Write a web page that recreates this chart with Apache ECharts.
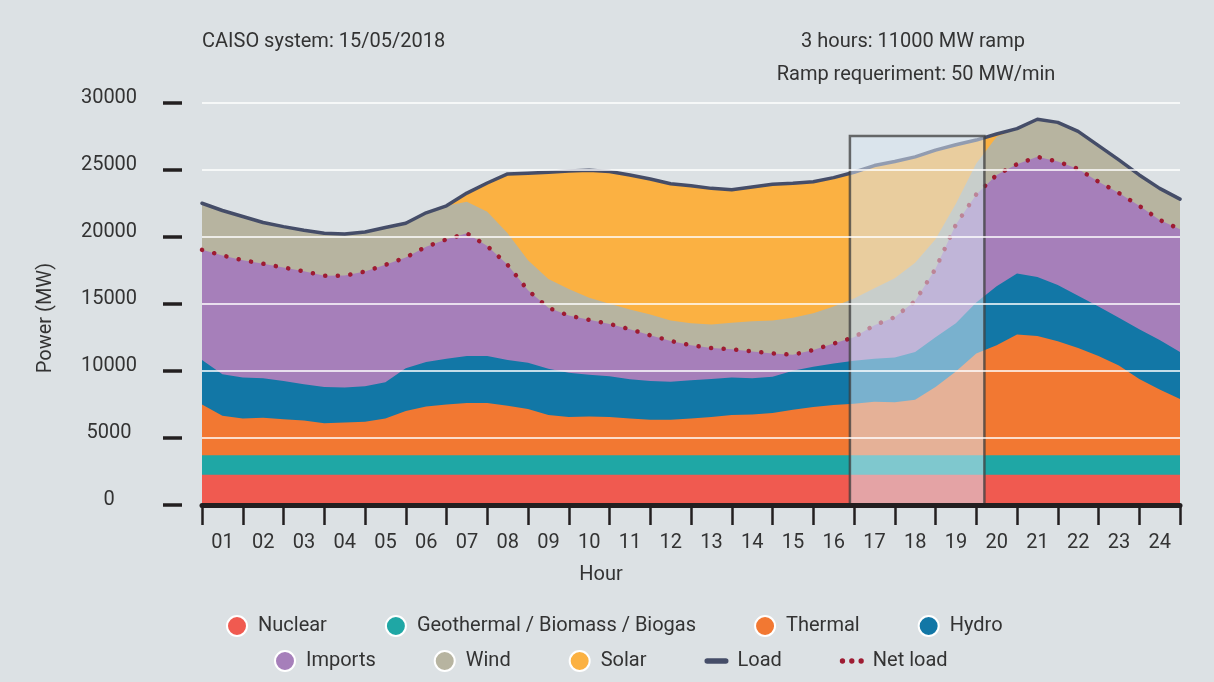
<!DOCTYPE html>
<html>
<head>
<meta charset="utf-8" />
<title>CAISO system: 15/05/2018</title>
<script src="https://cdn.jsdelivr.net/npm/echarts@6/dist/echarts.min.js"></script>
<style>
  html, body { margin: 0; padding: 0; background: #dce1e4; }
  #main { width: 1214px; height: 682px; }
</style>
</head>
<body>
<div id="main"></div>
<script>
// half-hour readings, hour 0 .. 24
var hours = [0, 0.5, 1, 1.5, 2, 2.5, 3, 3.5, 4, 4.5, 5, 5.5, 6, 6.5, 7, 7.5, 8, 8.5, 9, 9.5,
  10, 10.5, 11, 11.5, 12, 12.5, 13, 13.5, 14, 14.5, 15, 15.5, 16, 16.5, 17, 17.5, 18, 18.5, 19, 19.5,
  20, 20.5, 21, 21.5, 22, 22.5, 23, 23.5, 24];
var hourLabels = ['01', '02', '03', '04', '05', '06', '07', '08', '09', '10', '11', '12',
  '13', '14', '15', '16', '17', '18', '19', '20', '21', '22', '23', '24'];

var nuclear = [2250, 2250, 2250, 2250, 2250, 2250, 2250, 2250, 2250, 2250, 2250, 2250, 2250, 2250, 2250, 2250, 2250,
  2250, 2250, 2250, 2250, 2250, 2250, 2250, 2250, 2250, 2250, 2250, 2250, 2250, 2250, 2250, 2250, 2250,
  2250, 2250, 2250, 2250, 2250, 2250, 2250, 2250, 2250, 2250, 2250, 2250, 2250, 2250, 2250];
var geothermal = [1450, 1450, 1450, 1450, 1450, 1450, 1450, 1450, 1450, 1450, 1450, 1450, 1450, 1450, 1450, 1450, 1450,
  1450, 1450, 1450, 1450, 1450, 1450, 1450, 1450, 1450, 1450, 1450, 1450, 1450, 1450, 1450, 1450, 1450,
  1450, 1450, 1450, 1450, 1450, 1450, 1450, 1450, 1450, 1450, 1450, 1450, 1450, 1450, 1450];
var thermal = [3800, 2950, 2750, 2800, 2700, 2600, 2400, 2450, 2500, 2750, 3300, 3650, 3800, 3900, 3900, 3700, 3450,
  3000, 2850, 2900, 2850, 2750, 2650, 2650, 2750, 2850, 3000, 3050, 3150, 3400, 3600, 3750, 3850, 4000,
  3950, 4150, 5100, 6250, 7600, 8200, 9000, 8900, 8500, 8000, 7400, 6700, 5700, 4900, 4200];
var hydro = [3300, 3100, 3050, 2950, 2850, 2700, 2700, 2600, 2650, 2700, 3200, 3300, 3400, 3500, 3500, 3400, 3450,
  3450, 3300, 3100, 3050, 2930, 2900, 2830, 2850, 2850, 2800, 2700, 2700, 2900, 3000, 3100, 3200, 3200,
  3350, 3550, 3700, 3600, 3800, 4400, 4550, 4400, 4200, 3900, 3700, 3550, 3700, 3700, 3500];
var imports = [8220, 8850, 8750, 8530, 8450, 8420, 8280, 8350, 8550, 8750, 8250, 8600, 8900, 9150, 8200, 7100, 5400,
  4550, 4270, 4100, 3900, 3720, 3400, 3050, 2600, 2300, 2100, 2000, 1750, 1200, 1250, 1480, 1750, 2500,
  3000, 3800, 5100, 7350, 8050, 8300, 8150, 8950, 9200, 9450, 9300, 9300, 9200, 8950, 9150];
var wind = [3470, 3350, 3250, 3080, 3050, 3060, 3170, 3100, 2950, 2780, 2550, 2530, 2500, 2350, 2550, 2350, 2250,
  2150, 1980, 1650, 1500, 1480, 1550, 1520, 1650, 1750, 1980, 2250, 2460, 2750, 2750, 2770, 2900, 2750,
  2900, 2850, 2200, 1550, 2300, 2850, 2650, 2800, 2920, 2800, 2690, 2470, 2300, 2350, 2250];
var solar = [0, 0, 0, 0, 0, 0, 0, 0, 0, 0, 0, 0, 0, 650, 2150, 4430, 6480,
  7950, 8800, 9500, 9850, 10020, 10100, 10200, 10250, 10150, 9920, 10000, 10140, 10030, 9800, 9600, 9400, 9150,
  8700, 7900, 6650, 4400, 1750, 200, 0, 0, 0, 0, 0, 0, 0, 0, 0];
var load = [22490, 21950, 21500, 21060, 20750, 20480, 20250, 20200, 20350, 20680, 21000, 21780, 22300, 23250, 24000, 24680, 24730,
  24800, 24900, 24950, 24850, 24600, 24300, 23950, 23800, 23600, 23500, 23700, 23900, 23980, 24100, 24400, 24800, 25300,
  25600, 25950, 26450, 26850, 27200, 27650, 28050, 28750, 28520, 27850, 26790, 25720, 24600, 23600, 22800];
var netLoad = [19020, 18600, 18250, 17980, 17700, 17420, 17080, 17100, 17400, 17900, 18450, 19250, 19800, 20250, 19300, 17900, 16000,
  14700, 14120, 13800, 13500, 13100, 12650, 12230, 11900, 11700, 11600, 11450, 11300, 11200, 11550, 12030, 12500, 13400,
  14000, 15200, 17600, 20900, 23150, 24600, 25400, 25950, 25600, 25050, 24100, 23250, 22300, 21250, 20550];

// ramp window (hours) and its top (MW)
var rampStart = 15.9;
var rampEnd = 19.2;
var rampTop = 27500;

var FONT = 'Roboto';
var TXT = '#333333';

// sources bottom -> top
var sources = [
  { name: 'Nuclear', color: '#f05a50', values: nuclear },
  { name: 'Geothermal / Biomass / Biogas', color: '#1fa7a5', values: geothermal },
  { name: 'Thermal', color: '#f27832', values: thermal },
  { name: 'Hydro', color: '#1277a6', values: hydro },
  { name: 'Imports', color: '#a67fba', values: imports },
  { name: 'Wind', color: '#b7b4a0', values: wind },
  { name: 'Solar', color: '#fbb142', values: solar }
];

// running totals: each layer is painted from 0 to its top, top layer first
var running = hours.map(function () { return 0; });
var areaList = sources.map(function (s) {
  running = running.map(function (v, i) { return v + s.values[i]; });
  return {
    name: s.name,
    type: 'line',
    showSymbol: false,
    symbol: 'none',
    lineStyle: { width: 0 },
    itemStyle: { color: s.color },
    areaStyle: { color: s.color, opacity: 1 },
    data: hours.map(function (h, i) { return [h, running[i]]; }),
    z: 2
  };
}).reverse();

function pairs(arr) {
  return hours.map(function (h, i) { return [h, arr[i]]; });
}

var myChart = echarts.init(document.getElementById('main'));

var circleItem = function (name) { return { name: name, icon: 'circle' }; };

var legendBase = {
  itemGap: 58,
  itemWidth: 24,
  itemHeight: 20,
  itemStyle: { borderColor: '#ffffff', borderWidth: 2 },
  textStyle: { fontSize: 20, color: TXT, fontFamily: FONT, padding: [0, 0, 0, 4] }
};

option = {
  backgroundColor: '#dce1e4',
  animation: false,
  textStyle: { fontFamily: FONT },
  grid: [
    { left: 202, right: 34, top: 102.5, height: 402.5 },
    // narrow strip that carries the dash marks left of the plot
    { left: 163, width: 19, top: 102.5, height: 402.5 }
  ],
  legend: [
    Object.assign({}, legendBase, {
      top: 610,
      left: 221,
      data: [circleItem('Nuclear'), circleItem('Geothermal / Biomass / Biogas'), circleItem('Thermal'), circleItem('Hydro')]
    }),
    Object.assign({}, legendBase, {
      top: 645,
      left: 269,
      data: [circleItem('Imports'), circleItem('Wind'), circleItem('Solar'),
        { name: 'Load', icon: 'path://M3,0L23,0A3,3 0 0 1 23,6L3,6A3,3 0 0 1 3,0Z', itemStyle: { color: '#454d68', borderWidth: 0 } },
        { name: 'Net load', icon: 'path://M0,2a2,2 0 1,0 4,0a2,2 0 1,0 -4,0M7,2a2,2 0 1,0 4,0a2,2 0 1,0 -4,0M14,2a2,2 0 1,0 4,0a2,2 0 1,0 -4,0', itemStyle: { color: '#9e1b32', borderWidth: 0 } }]
    })
  ],
  xAxis: [{
    type: 'value',
    gridIndex: 0,
    min: 0,
    max: 24,
    show: false
  }, {
    type: 'category',
    gridIndex: 0,
    position: 'bottom',
    data: hourLabels,
    boundaryGap: true,
    z: 7,
    axisLine: { show: true, lineStyle: { color: '#231f20', width: 5 } },
    axisTick: { show: true, length: 20, lineStyle: { color: '#231f20', width: 2.5 } },
    axisLabel: { interval: 0, margin: 28, fontSize: 20, color: TXT, fontFamily: FONT },
    splitLine: { show: false }
  }, {
    type: 'value',
    gridIndex: 1,
    min: 0,
    max: 1,
    show: false
  }],
  yAxis: [{
    type: 'value',
    gridIndex: 0,
    min: 0,
    max: 30000,
    interval: 5000,
    z: 6,
    axisLine: { show: false },
    axisTick: { show: false },
    axisLabel: {
      fontSize: 20, color: TXT, fontFamily: FONT, align: 'center', margin: 93,
      verticalAlign: 'bottom', lineHeight: 10,
      formatter: function (v) { return String(v); }
    },
    splitLine: { show: true, lineStyle: { color: '#ffffff', width: 1.5 } }
  }, {
    type: 'value',
    gridIndex: 1,
    min: 0,
    max: 30000,
    interval: 5000,
    axisLine: { show: false },
    axisTick: { show: false },
    axisLabel: { show: false },
    splitLine: { show: true, lineStyle: { color: '#231f20', width: 3.5 } }
  }],
  graphic: [
    { type: 'text', x: 202, y: 42, style: { text: 'CAISO system: 15/05/2018', font: '20px Roboto', fill: TXT, textAlign: 'left', textVerticalAlign: 'middle' } },
    { type: 'text', x: 913, y: 42, style: { text: '3 hours: 11000 MW ramp', font: '20px Roboto', fill: TXT, textAlign: 'center', textVerticalAlign: 'middle' } },
    { type: 'text', x: 916, y: 75, style: { text: 'Ramp requeriment: 50 MW/min', font: '20px Roboto', fill: TXT, textAlign: 'center', textVerticalAlign: 'middle' } },
    { type: 'text', x: 601, y: 575, style: { text: 'Hour', font: '20px Roboto', fill: TXT, textAlign: 'center', textVerticalAlign: 'middle' } },
    { type: 'text', x: 46, y: 318, rotation: Math.PI / 2, style: { text: 'Power (MW)', font: '20px Roboto', fill: TXT, textAlign: 'center', textVerticalAlign: 'middle' } }
  ],
  series: areaList.concat([
    {
      name: 'Load',
      type: 'line',
      showSymbol: false,
      symbol: 'none',
      z: 3,
      itemStyle: { color: '#454d68' },
      lineStyle: { color: '#454d68', width: 3.5, cap: 'round', join: 'round' },
      data: pairs(load),
      markArea: {
        silent: true,
        z: 5,
        itemStyle: { color: 'rgba(217,230,243,0.52)', borderColor: 'rgba(60,60,60,0.75)', borderWidth: 2.5 },
        data: [[{ xAxis: rampStart, yAxis: 0 }, { xAxis: rampEnd, yAxis: rampTop }]]
      }
    },
    {
      name: 'Net load',
      type: 'line',
      showSymbol: false,
      symbol: 'none',
      z: 3,
      itemStyle: { color: '#9e1b32' },
      lineStyle: { color: '#9e1b32', width: 4.5, type: [0.1, 12.5], cap: 'round' },
      data: pairs(netLoad)
    }
  ])
};

myChart.setOption(option);
</script>
</body>
</html>
